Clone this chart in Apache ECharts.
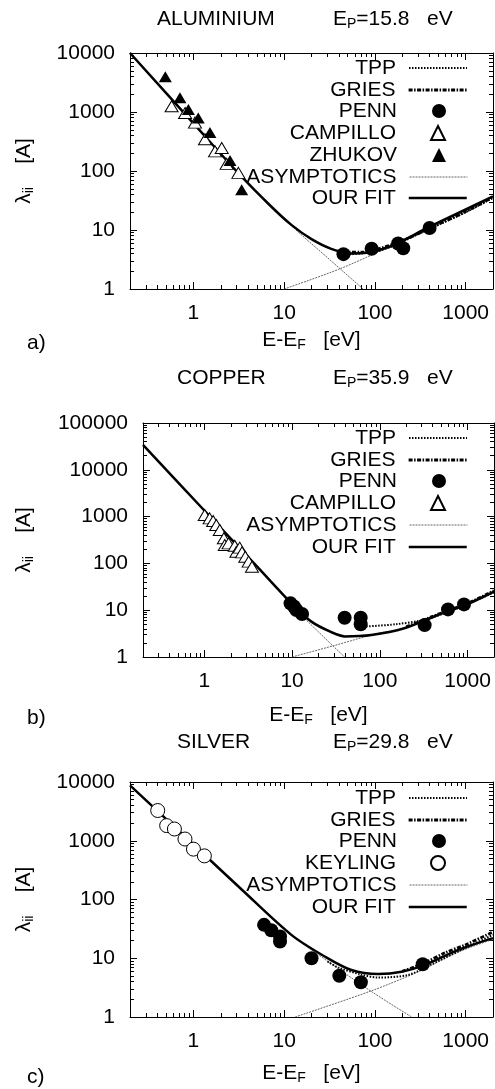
<!DOCTYPE html>
<html><head><meta charset="utf-8">
<script src="https://cdn.jsdelivr.net/npm/echarts@6/dist/echarts.min.js"></script>
<style>html,body{margin:0;padding:0;background:#fff}#c{width:495px;height:1089px}</style>
</head><body><div id="c"></div>
<script>
// ---------- tick labels ----------
const xTicks = [1, 10, 100, 1000];
const yTicksAl = [1, 10, 100, 1000, 10000];
const yTicksCu = [1, 10, 100, 1000, 10000, 100000];
const yTicksAg = [1, 10, 100, 1000, 10000];

// ---------- ALUMINIUM ----------
const alFit = [[0.2,10000],[1,640],[3.3,84],[7,26],[12,12.2],[20,7.0],[33,4.8],[55,4.0],[80,4.1],[150,5.3],[350,10.2],[800,19],[2000,37]];
const alTpp = [[45,3.8],[70,4.0],[100,4.3],[150,5.2],[400,10.5],[1000,20],[2000,35]];
const alGries = [[45,4.2],[70,4.2],[100,4.6],[200,6.6],[500,12.5],[1000,20.5],[2000,36]];
const alAsymLow = [[0.2,10000],[3.3,84],[12,11.8],[30,3.4],[74,1]];
const alAsymHigh = [[10,1],[40,2.16],[150,5.3],[400,10.6],[2000,36]];
const alPenn = [[45,3.9],[92,4.8],[180,5.9],[205,4.9],[400,10.8]];
const alCampillo = [[0.575,1250],[0.81,960],[1.04,660],[1.34,345],[1.73,215],[2.05,245],[2.32,132],[3.13,93]];
const alZhukov = [[0.49,3950],[0.71,1740],[0.88,1100],[1.13,790],[1.52,450],[2.53,150],[3.4,48]];

// ---------- COPPER ----------
const cuFit = [[0.2,34000],[1,1350],[4,85],[9.8,14],[16.6,5.7],[28,3.4],[40,2.75],[80,2.95],[190,4.1],[460,7.9],[1000,13.5],[2000,25]];
const cuTpp = [[70,4.5],[150,5.0],[320,6.2],[600,9.2],[1000,13.5],[2000,24]];
const cuGries = [[200,4.4],[400,7.4],[700,11],[1000,14],[2000,26]];
const cuAsymLow = [[0.2,34000],[4,85],[9.8,14],[12.7,7.9],[39.7,1]];
const cuAsymHigh = [[10,1],[30,1.75],[95,3.2],[190,4.1],[460,7.9],[2000,25]];
const cuPenn = [[9.6,14],[10.5,12],[11.2,10.1],[13,8.3],[39.7,6.9],[60.5,6.9],[60.5,5.0],[324,4.8],[598,10.4],[910,13.3]];
const cuCampillo = [[1.01,1080],[1.15,918],[1.26,805],[1.37,662],[1.5,518],[1.67,344],[1.71,247],[1.89,268],[2.22,239],[2.32,178],[2.53,217],[2.69,172],[2.93,139],[3.2,109],[3.49,85]];

// ---------- SILVER ----------
const agFit = [[0.2,8770],[1,865],[3.4,148],[12,25],[28,10.7],[55,6.3],[109,5.4],[197,5.9],[356,7.7],[830,13.9],[2000,22]];
const agTpp = [[30,8.8],[40,6.9],[70,5.3],[109,4.7],[233,5.2],[400,7.6],[1000,15],[2000,25]];
const agGries = [[200,6.0],[350,8.3],[600,12.5],[1000,17],[2000,28]];
const agAsymLow = [[0.2,8770],[3.4,148],[12,25],[20,13.9],[92,2.7],[254,1]];
const agAsymHigh = [[13.2,1],[92,2.8],[300,5.9],[800,12.5],[2000,21]];
const agPenn = [[6.0,37],[7.2,30],[9.0,23.5],[9.0,19.3],[20,10],[40.5,5.05],[70,3.9],[336,7.9]];
const agKeyling = [[0.404,3270],[0.507,1810],[0.617,1585],[0.807,1070],[1.0,720],[1.32,553]];

const FONT = '"Liberation Sans", Arial, Helvetica, sans-serif';
const chart = echarts.init(document.getElementById('c'), null, {renderer: 'canvas'});

const grids = [
  {left: 130, top: 53, width: 363, height: 236},
  {left: 143, top: 423, width: 351, height: 234},
  {left: 130, top: 782, width: 363, height: 235}
];

function minors(lo, hi) {
  const r = [];
  for (let e = Math.floor(Math.log10(lo)); e <= Math.ceil(Math.log10(hi)); e++) {
    for (let m = 2; m <= 9; m++) {
      const v = parseFloat((m * Math.pow(10, e)).toPrecision(6));
      if (v >= lo * 0.999 && v <= hi * 1.001) r.push(v);
    }
  }
  return r;
}

const xAxes = [], yAxes = [];
function addAxes(p, yMax, yTicks) {
  const common = {gridIndex: p, splitLine: {show: false}, axisPointer: {show: false}};
  const line = {show: true, onZero: false, lineStyle: {color: '#000', width: 1}};
  const major = {show: true, inside: true, length: 7, lineStyle: {color: '#000', width: 1}};
  const minor = {show: true, inside: true, length: 4, lineStyle: {color: '#000', width: 1}};
  const xb = Object.assign({}, common, {type: 'log', logBase: 10, min: 0.2, max: 2000});
  const yb = Object.assign({}, common, {type: 'log', logBase: 10, min: 1, max: yMax});
  const lab = {show: true, color: '#000', fontSize: 21, fontFamily: FONT,
    formatter: v => String(Math.round(v))};
  xAxes.push(
    Object.assign({}, xb, {position: 'bottom', axisLine: line,
      axisTick: Object.assign({}, major, {customValues: xTicks}),
      axisLabel: Object.assign({}, lab, {customValues: xTicks, margin: 14})}),
    Object.assign({}, xb, {position: 'bottom', axisLine: {show: false},
      axisTick: Object.assign({}, minor, {customValues: minors(0.2, 2000)}), axisLabel: {show: false}}),
    Object.assign({}, xb, {position: 'top', axisLine: line,
      axisTick: Object.assign({}, major, {customValues: xTicks}), axisLabel: {show: false}}),
    Object.assign({}, xb, {position: 'top', axisLine: {show: false},
      axisTick: Object.assign({}, minor, {customValues: minors(0.2, 2000)}), axisLabel: {show: false}})
  );
  yAxes.push(
    Object.assign({}, yb, {position: 'left', axisLine: line,
      axisTick: Object.assign({}, major, {customValues: yTicks}),
      axisLabel: Object.assign({}, lab, {customValues: yTicks, margin: 15})}),
    Object.assign({}, yb, {position: 'left', axisLine: {show: false},
      axisTick: Object.assign({}, minor, {customValues: minors(1, yMax)}), axisLabel: {show: false}}),
    Object.assign({}, yb, {position: 'right', axisLine: line,
      axisTick: Object.assign({}, major, {customValues: yTicks}), axisLabel: {show: false}}),
    Object.assign({}, yb, {position: 'right', axisLine: {show: false},
      axisTick: Object.assign({}, minor, {customValues: minors(1, yMax)}), axisLabel: {show: false}})
  );
}
addAxes(0, 10000, yTicksAl);
addAxes(1, 100000, yTicksCu);
addAxes(2, 10000, yTicksAg);

const STY = {
  'OUR FIT': {color: '#000', width: 2.5, type: 'solid'},
  'TPP': {color: '#000', width: 2, type: [1.5, 1.5]},
  'GRIES': {color: '#000', width: 2.8, type: [4, 1.5, 1.5, 1.5]},
  'ASYMPTOTICS': {color: '#666', width: 1, type: [2, 1]}
};
const series = [];
function ln(name, data, p, z) {
  const style = STY[name];
  series.push({type: 'line', name, data, xAxisIndex: p * 4, yAxisIndex: p * 4,
    symbol: 'none', showSymbol: false, smooth: 0.3, lineStyle: style, itemStyle: {color: style.color},
    z: z, silent: true, animation: false, clip: true});
}
function sc(name, data, p, symbol, size, filled, z) {
  series.push({type: 'scatter', name, data, xAxisIndex: p * 4, yAxisIndex: p * 4,
    symbol, symbolSize: size,
    itemStyle: filled ? {color: '#000', borderColor: '#000', borderWidth: 0, opacity: 1} : {color: '#fff', borderColor: '#000', borderWidth: 1, opacity: 1},
    z: z, silent: true, animation: false});
}
// aluminium
ln('ASYMPTOTICS', alAsymLow, 0, 2); ln('ASYMPTOTICS', alAsymHigh, 0, 2);
ln('TPP', alTpp, 0, 3); ln('GRIES', alGries, 0, 3); ln('OUR FIT', alFit, 0, 4);
sc('PENN', alPenn, 0, 'circle', 14, true, 5); sc('CAMPILLO', alCampillo, 0, 'triangle', [13, 11], false, 5);
sc('ZHUKOV', alZhukov, 0, 'triangle', [13, 11], true, 5);
// copper
ln('ASYMPTOTICS', cuAsymLow, 1, 2); ln('ASYMPTOTICS', cuAsymHigh, 1, 2);
ln('TPP', cuTpp, 1, 3); ln('GRIES', cuGries, 1, 3); ln('OUR FIT', cuFit, 1, 4);
sc('PENN', cuPenn, 1, 'circle', 14, true, 5); sc('CAMPILLO', cuCampillo, 1, 'triangle', [13, 11], false, 5);
// silver
ln('ASYMPTOTICS', agAsymLow, 2, 2); ln('ASYMPTOTICS', agAsymHigh, 2, 2);
ln('TPP', agTpp, 2, 3); ln('GRIES', agGries, 2, 3); ln('OUR FIT', agFit, 2, 4);
sc('PENN', agPenn, 2, 'circle', 14, true, 5); sc('KEYLING', agKeyling, 2, 'circle', 14, false, 5);

// legends: one per row, right aligned
const legendRows = [
  {names: ['TPP', 'GRIES', 'PENN', 'CAMPILLO', 'ZHUKOV', 'ASYMPTOTICS', 'OUR FIT'], y0: 68},
  {names: ['TPP', 'GRIES', 'PENN', 'CAMPILLO', 'ASYMPTOTICS', 'OUR FIT'], y0: 438},
  {names: ['TPP', 'GRIES', 'PENN', 'KEYLING', 'ASYMPTOTICS', 'OUR FIT'], y0: 798}
];
const legends = [];
legendRows.forEach(g => g.names.forEach((n, i) => {
  const ls = STY[n];
  const lg = {data: [n], top: Math.round(g.y0 + i * 21.7 - 12), orient: 'horizontal',
    align: 'right', padding: 0, itemHeight: 14, selectedMode: false,
    textStyle: {color: '#000', fontSize: 21, fontFamily: FONT, lineHeight: 24}};
  if (ls) {
    lg.right = 27; lg.itemWidth = 58;
    lg.textStyle.padding = [0, 8, 0, 0];
    lg.itemStyle = {color: 'rgba(0,0,0,0)', borderWidth: 0, opacity: 0};
    lg.lineStyle = {color: ls.color, width: ls.width, type: ls.type, opacity: 1};
  } else {
    lg.right = 49; lg.itemWidth = 14;
    lg.textStyle.padding = [0, 30, 0, 0];
  }
  legends.push(lg);
}));

const sub = {fontSize: 14, fontFamily: FONT, fill: '#000', padding: [10, 0, 0, 0]};
const base = {fontSize: 21, fontFamily: FONT, fill: '#000'};
const texts = [];
function txt(text, x, y, align) {
  texts.push({type: 'text', x, y, silent: true,
    style: Object.assign({text, verticalAlign: 'middle', align: align || 'left', rich: {s: sub}}, base)});
}
const titles = [['ALUMINIUM', 'E{s|P}=15.8   eV', 157, 19], ['COPPER', 'E{s|P}=35.9   eV', 177, 378], ['SILVER', 'E{s|P}=29.8   eV', 177, 742]];
titles.forEach(t => { txt(t[0], t[2], t[3]); txt(t[1], 333, t[3]); });
const panelLab = [['a)', 343], ['b)', 718], ['c)', 1077]];
panelLab.forEach(l => txt(l[0], 27, l[1]));
grids.forEach((g, i) => {
  txt('E-E{s|F}   [eV]', g.left + g.width / 2, [340, 715, 1073][i], 'center');
  texts.push({type: 'text', x: 24, y: g.top + g.height / 2, rotation: Math.PI / 2, silent: true,
    style: Object.assign({text: 'λ{s|ii}    [A]', align: 'center', verticalAlign: 'middle', rich: {s: sub}}, base)});
});

chart.setOption({
  animation: false,
  backgroundColor: '#fff',
  grid: grids.map(g => Object.assign({outerBoundsMode: 'none', containLabel: false}, g)),
  xAxis: xAxes,
  yAxis: yAxes,
  legend: legends,
  series,
  graphic: texts
});
</script></body></html>
